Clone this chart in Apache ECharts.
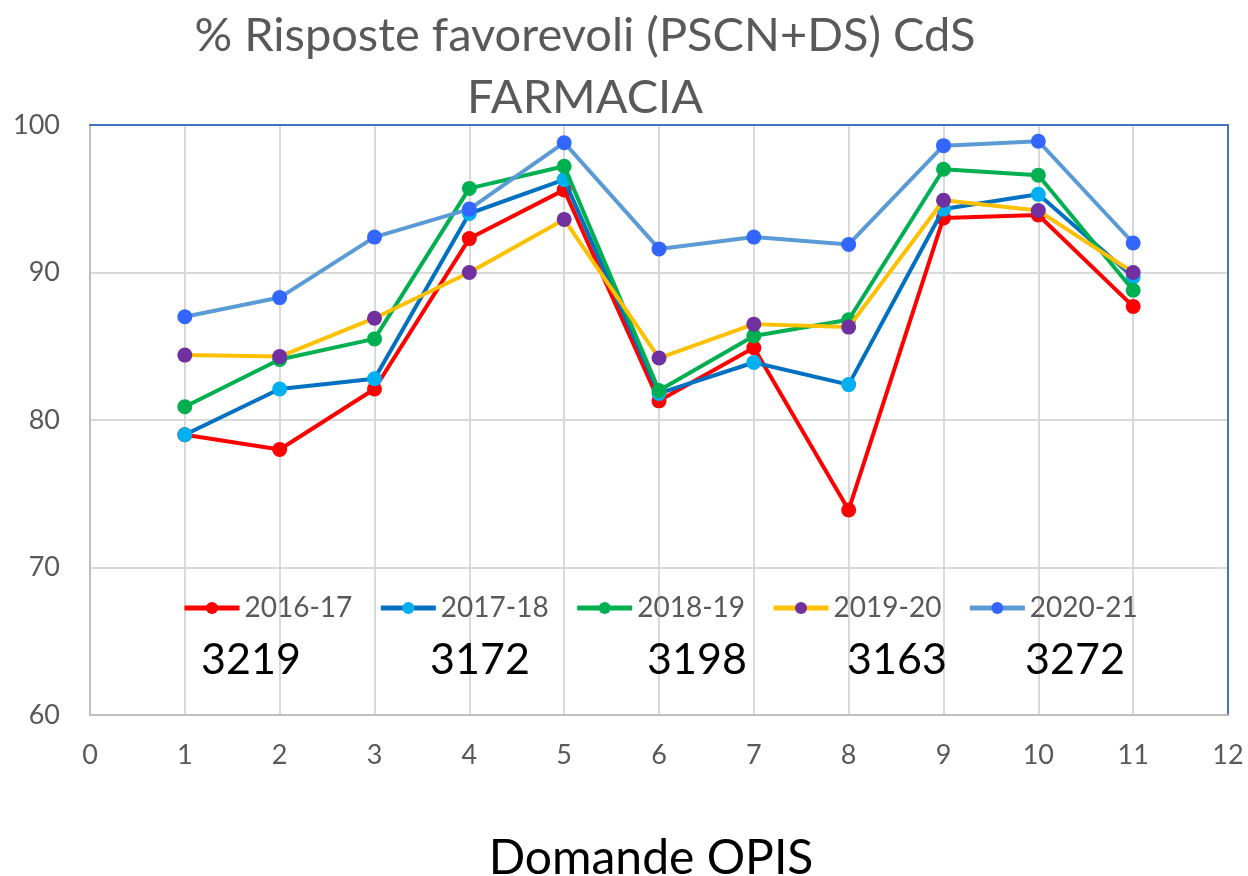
<!DOCTYPE html>
<html>
<head>
<meta charset="utf-8">
<script src="https://cdn.jsdelivr.net/npm/echarts@6.0.0/dist/echarts.min.js"></script>
<style>
  html, body { margin: 0; padding: 0; background: #fff; }
  #chart { width: 1248px; height: 876px; }
</style>
</head>
<body>
<div id="chart"></div>
<script>
// Domande OPIS (x) and percentage of favourable answers per academic year
const questions = [1, 2, 3, 4, 5, 6, 7, 8, 9, 10, 11];
const years = ["2016-17", "2017-18", "2018-19", "2019-20", "2020-21"];

const y2016 = [79.0, 78.0, 82.1, 92.3, 95.6, 81.3, 84.9, 73.9, 93.7, 93.9, 87.7];
const y2017 = [79.0, 82.1, 82.8, 94.0, 96.3, 81.8, 83.9, 82.4, 94.3, 95.3, 89.7];
const y2018 = [80.9, 84.1, 85.5, 95.7, 97.2, 82.0, 85.7, 86.8, 97.0, 96.6, 88.8];
const y2019 = [84.4, 84.3, 86.9, 90.0, 93.6, 84.2, 86.5, 86.3, 94.9, 94.2, 90.0];
const y2020 = [87.0, 88.3, 92.4, 94.3, 98.8, 91.6, 92.4, 91.9, 98.6, 98.9, 92.0];

// number of questionnaires, shown under the legend
const courseCodes = ["3219", "3172", "3198", "3163", "3272"];

const lineColors = ["#FF0000", "#0070C0", "#00B050", "#FFC000", "#5B9BD5"];
const markerColors = ["#FF0000", "#00B0F0", "#00B050", "#7030A0", "#3366FF"];

const FONT = "Lato";
const allValues = [y2016, y2017, y2018, y2019, y2020];

const series = years.map((name, i) => ({
  name,
  type: "line",
  data: questions.map((q, j) => [q, allValues[i][j]]),
  symbol: "circle",
  symbolSize: 15,
  showSymbol: true,
  lineStyle: { color: lineColors[i], width: 4 },
  itemStyle: { color: markerColors[i] },
  emphasis: { disabled: true },
  z: 2 + i,
}));

const codeX = [251, 480, 697, 897, 1075];

const chart = echarts.init(document.getElementById("chart"));

chart.setOption({
  animation: false,
  textStyle: { fontFamily: FONT },
  grid: { left: 90, right: 20, top: 125, bottom: 161, outerBoundsMode: "none" },
  legend: {
    data: years,
    left: 177,
    top: 589,
    itemWidth: 55,
    itemHeight: 15,
    itemGap: 26,
    lineStyle: { width: 5 },
    textStyle: { fontSize: 28, color: "#595959", fontFamily: FONT },
  },
  xAxis: [
    {
      type: "value",
      min: 0,
      max: 12,
      interval: 1,
      axisLine: { show: true, lineStyle: { color: "#BFBFBF", width: 2 } },
      axisTick: { show: false },
      axisLabel: { fontSize: 27, color: "#595959", margin: 27, fontFamily: FONT },
      splitLine: { show: true, lineStyle: { color: "#D9D9D9", width: 2 } },
      name: "Domande OPIS",
      nameLocation: "middle",
      nameGap: 120,
      nameTextStyle: { fontSize: 48, color: "#000", fontFamily: FONT, padding: [0, 16, 0, 0] },
    },
    {
      type: "value",
      position: "top",
      min: 0,
      max: 12,
      interval: 1,
      axisLine: { show: true, onZero: false, lineStyle: { color: "#4472C4", width: 2 } },
      axisTick: { show: false },
      axisLabel: { show: false },
      splitLine: { show: false },
    },
  ],
  yAxis: [
    {
      type: "value",
      min: 60,
      max: 100,
      interval: 10,
      axisLine: { show: true, lineStyle: { color: "#BFBFBF", width: 2 } },
      axisTick: { show: false },
      axisLabel: { fontSize: 27, color: "#595959", margin: 30, fontFamily: FONT },
      splitLine: { show: true, lineStyle: { color: "#D9D9D9", width: 2 } },
    },
    {
      type: "value",
      position: "right",
      min: 60,
      max: 100,
      interval: 10,
      axisLine: { show: true, onZero: false, lineStyle: { color: "#4472C4", width: 2 } },
      axisTick: { show: false },
      axisLabel: { show: false },
      splitLine: { show: false },
    },
  ],
  graphic: [
    {
      type: "text",
      x: 585,
      y: 5,
      style: {
        text: "% Risposte favorevoli (PSCN+DS) CdS\nFARMACIA",
        fontSize: 47,
        lineHeight: 62,
        fontFamily: FONT,
        fill: "#595959",
        textAlign: "center",
      },
    },
    ...courseCodes.map((c, i) => ({
      type: "text",
      x: codeX[i],
      y: 660,
      z: 10,
      style: {
        text: c,
        fontSize: 43,
        fontFamily: FONT,
        fill: "#000",
        textAlign: "center",
        textVerticalAlign: "middle",
      },
    })),
  ],
  series,
});
</script>
</body>
</html>
